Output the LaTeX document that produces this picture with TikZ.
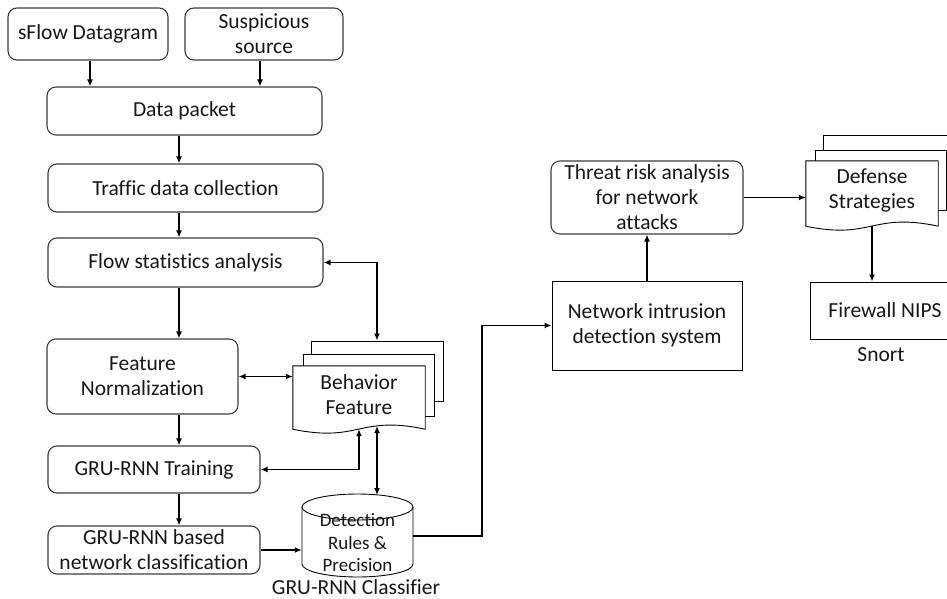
\documentclass[tikz,border=0pt]{standalone}
\usepackage{fontspec}
\setmainfont{Carlito}[Ligatures={NoCommon}]
\usetikzlibrary{arrows.meta}
\definecolor{ink}{HTML}{16161E}
\definecolor{edge}{HTML}{3C3C3C}
\tikzset{
  base/.style={font=\fontsize{21.5}{25}\selectfont, text=ink, align=center, inner sep=0pt},
  rbox/.style={base, draw=edge, line width=1.1pt, rounded corners=9pt, fill=white},
  sbox/.style={base, draw=black, line width=0.9pt, fill=white},
  hold/.style={base},
  page/.style={draw=black, line width=0.9pt, fill=white, inner sep=0pt},
  arr/.style={-{Latex[length=7pt,width=6pt]}, line width=1.4pt},
  darr/.style={{Latex[length=7pt,width=6pt]}-{Latex[length=7pt,width=6pt]}, line width=1.4pt},
}
\begin{document}
\begin{tikzpicture}[x=1pt,y=-1pt]
\useasboundingbox (0,0) rectangle (947,599);
\clip (0,0) rectangle (947,599);
\fill[white] (0,0) rectangle (947,599);

% left column
\node[rbox, minimum width=160pt, minimum height=52pt] (sflow) at (88,34) {sFlow Datagram};
\node[rbox, minimum width=158pt, minimum height=52pt] (susp) at (264,34) {Suspicious\\source};
\node[rbox, minimum width=275pt, minimum height=48pt] (data) at (184.5,111) {Data packet};
\node[rbox, minimum width=275pt, minimum height=48pt] (traffic) at (185.5,188) {Traffic data collection};
\node[rbox, minimum width=275pt, minimum height=49pt] (flow) at (185.5,262.5) {Flow statistics analysis};
\node[rbox, minimum width=191pt, minimum height=75pt] (norm) at (142.5,376.5) {Feature\\Normalization};
\node[rbox, minimum width=212pt, minimum height=47pt] (train) at (154,469.5) {GRU-RNN Training};
\node[rbox, minimum width=212pt, minimum height=48pt] (cls) at (154,550) {GRU-RNN based\\network classification};

% behavior feature document stack
\node[page, minimum width=132pt, minimum height=60pt] (beh3) at (377,371) {};
\node[page, minimum width=131pt, minimum height=62pt] (beh2) at (368.5,385) {};
\node[hold, minimum width=132pt, minimum height=63pt] (beh) at (359,397.5) {};
\draw[page] (beh.north west) -- (beh.north east) -- (beh.south east)
  .. controls (359,415) and (359,443) .. (beh.south west) -- cycle;
\node[base] at (359,395) {Behavior\\Feature};

% rule store cylinder
\node[hold, minimum width=111pt, minimum height=84pt] (cyl) at (357.5,536) {};
\draw[black, line width=0.9pt, fill=white] (302,507) -- (302,564)
  arc[start angle=180, end angle=360, x radius=55.5pt, y radius=13pt] -- (413,507);
\draw[black, line width=0.9pt] (357.5,507) ellipse [x radius=55.5pt, y radius=13pt];
\node[base, font=\fontsize{19}{22.5}\selectfont] at (357.5,543) {Detection\\Rules \&\\Precision};
\node[base] (cap) at (356,587) {GRU-RNN Classifier};

% right part
\node[rbox, minimum width=192pt, minimum height=73pt] (threat) at (647,197.5) {Threat risk analysis\\for network\\attacks};
\node[sbox, minimum width=190pt, minimum height=89pt] (nids) at (647,325.5) {Network intrusion\\detection system};

\node[page, minimum width=140pt, minimum height=62pt] (def3) at (893,166) {};
\node[page, minimum width=131pt, minimum height=60pt] (def2) at (880.5,180) {};
\node[hold, minimum width=132pt, minimum height=65pt] (def) at (872,193.5) {};
\draw[page] (def.north west) -- (def.north east) -- (def.south east)
  .. controls (872,212) and (872,240) .. (def.south west) -- cycle;
\node[base] at (872,190) {Defense\\Strategies};

\node[sbox, minimum width=150pt, minimum height=57pt] (fw) at (885,310.5) {Firewall NIPS};
\node[base] (snort) at (881,355) {Snort};

% connectors
\coordinate (ax) at (179,0);
\coordinate (bc) at (377,426);
\coordinate (ct) at (377,495);
\coordinate (jx) at (482,0);
\draw[arr] (sflow.south -| 90,0) -- (data.north -| 90,0);
\draw[arr] (susp.south -| 260,0) -- (data.north -| 260,0);
\draw[arr] (data.south -| ax) -- (traffic.north -| ax);
\draw[arr] (traffic.south -| ax) -- (flow.north -| ax);
\draw[arr] (flow.south -| ax) -- (norm.north -| ax);
\draw[arr] (norm.south -| ax) -- (train.north -| ax);
\draw[arr] (train.south -| ax) -- (cls.north -| ax);
\draw[darr] (flow.east) -| (beh3.north);
\draw[darr] (norm.east) -- (norm.east -| beh.west);
\draw[darr] (train.east) -| (beh.south);
\draw[darr] (ct) -- (bc);
\draw[arr] (cls.east) -- (cls.east -| cyl.west);
\draw[arr] (cyl.east) -- (cyl.east -| jx) |- (nids.west);
\draw[arr] (nids.north) -- (threat.south);
\draw[arr] (threat.east) -- (threat.east -| def.west);
\draw[arr] (def.south) -- (def.south |- fw.north);
\end{tikzpicture}
\end{document}
